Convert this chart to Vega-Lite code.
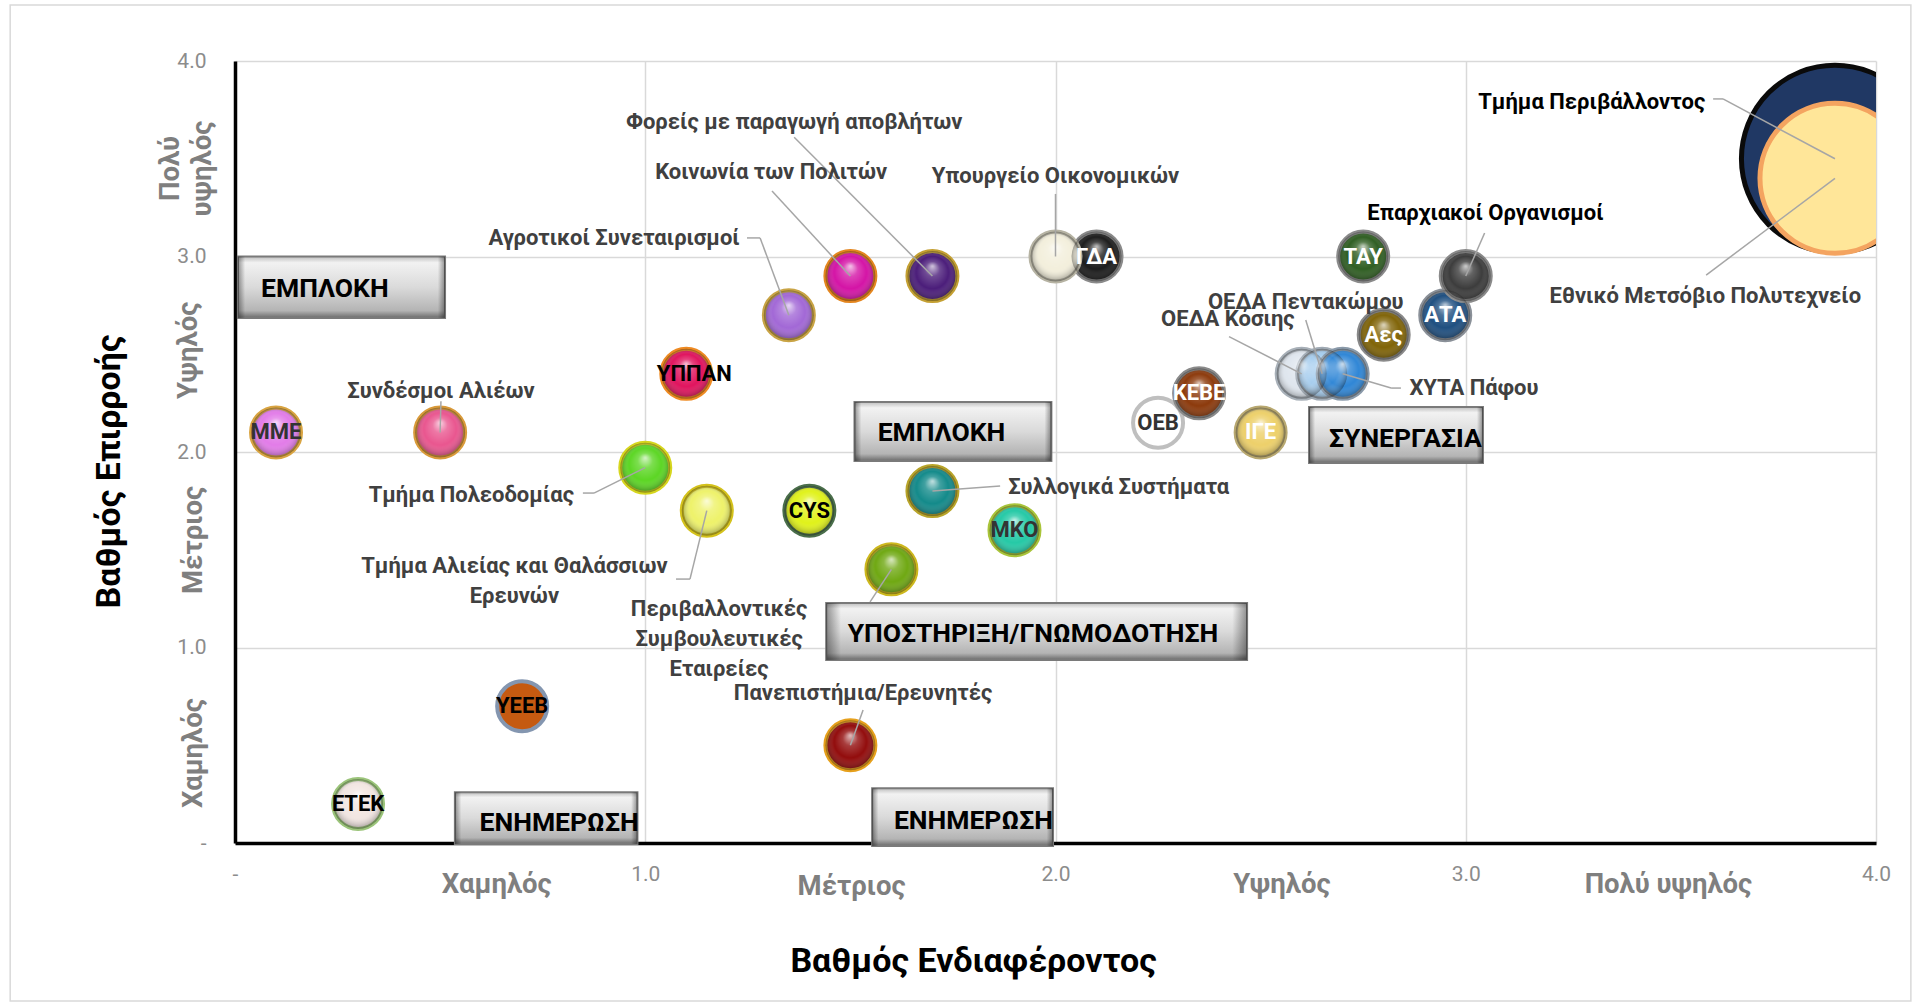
{
  "$schema": "https://vega.github.io/schema/vega-lite/v6.json",
  "width": 1641,
  "height": 782,
  "autosize": "none",
  "padding": {"left": 235, "top": 61, "right": 43, "bottom": 160},
  "background": "white",
  "config": {"view": {"stroke": null}, "font": "Roboto"},
  "datasets": {
    "stakeholders": [
      {"name": "Τμήμα Περιβάλλοντος", "interest": 3.9, "influence": 3.5, "size": 14},
      {"name": "Εθνικό Μετσόβιο Πολυτεχνείο", "interest": 3.9, "influence": 3.4, "size": 9},
      {"name": "ΜΜΕ", "interest": 0.1, "influence": 2.1, "size": 1},
      {"name": "Συνδέσμοι Αλιέων", "interest": 0.5, "influence": 2.1, "size": 1},
      {"name": "ΥΠΠΑΝ", "interest": 1.1, "influence": 2.4, "size": 1},
      {"name": "Αγροτικοί Συνεταιρισμοί", "interest": 1.35, "influence": 2.7, "size": 1},
      {"name": "Κοινωνία των Πολιτών", "interest": 1.5, "influence": 2.9, "size": 1},
      {"name": "Φορείς με παραγωγή αποβλήτων", "interest": 1.7, "influence": 2.9, "size": 1},
      {"name": "ΓΔΑ", "interest": 2.1, "influence": 3.0, "size": 1},
      {"name": "Υπουργείο Οικονομικών", "interest": 2.0, "influence": 3.0, "size": 1},
      {"name": "Τμήμα Πολεοδομίας", "interest": 1.0, "influence": 1.92, "size": 1},
      {"name": "Τμήμα Αλιείας και Θαλάσσιων Ερευνών", "interest": 1.15, "influence": 1.7, "size": 1},
      {"name": "CYS", "interest": 1.4, "influence": 1.7, "size": 1},
      {"name": "Συλλογικά Συστήματα", "interest": 1.7, "influence": 1.8, "size": 1},
      {"name": "ΜΚΟ", "interest": 1.9, "influence": 1.6, "size": 1},
      {"name": "Περιβαλλοντικές Συμβουλευτικές Εταιρείες", "interest": 1.6, "influence": 1.4, "size": 1},
      {"name": "Πανεπιστήμια/Ερευνητές", "interest": 1.5, "influence": 0.5, "size": 1},
      {"name": "ΥΕΕΒ", "interest": 0.7, "influence": 0.7, "size": 1},
      {"name": "ΕΤΕΚ", "interest": 0.3, "influence": 0.2, "size": 1},
      {"name": "ΟΕΒ", "interest": 2.25, "influence": 2.15, "size": 1},
      {"name": "ΚΕΒΕ", "interest": 2.35, "influence": 2.3, "size": 1},
      {"name": "ΙΓΕ", "interest": 2.5, "influence": 2.1, "size": 1},
      {"name": "ΟΕΔΑ Κόσιης", "interest": 2.6, "influence": 2.4, "size": 1},
      {"name": "ΟΕΔΑ Πεντακώμου", "interest": 2.65, "influence": 2.4, "size": 1},
      {"name": "ΧΥΤΑ Πάφου", "interest": 2.7, "influence": 2.4, "size": 1},
      {"name": "Αες", "interest": 2.8, "influence": 2.6, "size": 1},
      {"name": "ΤΑΥ", "interest": 2.75, "influence": 3.0, "size": 1},
      {"name": "ΑΤΑ", "interest": 2.95, "influence": 2.7, "size": 1},
      {"name": "Επαρχιακοί Οργανισμοί", "interest": 3.0, "influence": 2.9, "size": 1}
    ],
    "callouts": [
      {"name": "Φορείς με παραγωγή αποβλήτων", "label": "Φορείς με παραγωγή αποβλήτων", "tx": 1.363, "ty": 3.69, "sx": 1.363, "sy": 3.61, "bx": 1.363, "by": 3.61},
      {"name": "Κοινωνία των Πολιτών", "label": "Κοινωνία των Πολιτών", "tx": 1.307, "ty": 3.43, "sx": 1.309, "sy": 3.335, "bx": 1.309, "by": 3.335},
      {"name": "Υπουργείο Οικονομικών", "label": "Υπουργείο Οικονομικών", "tx": 2.0, "ty": 3.41, "sx": 2.0, "sy": 3.32, "bx": 2.0, "by": 3.32},
      {"name": "Αγροτικοί Συνεταιρισμοί", "label": "Αγροτικοί Συνεταιρισμοί", "tx": 0.924, "ty": 3.095, "sx": 1.248, "sy": 3.095, "bx": 1.28, "by": 3.095},
      {"name": "Συνδέσμοι Αλιέων", "label": "Συνδέσμοι Αλιέων", "tx": 0.502, "ty": 2.31, "sx": 0.502, "sy": 2.26, "bx": 0.502, "by": 2.26},
      {"name": "Τμήμα Πολεοδομίας", "label": "Τμήμα Πολεοδομίας", "tx": 0.576, "ty": 1.78, "sx": 0.848, "sy": 1.79, "bx": 0.875, "by": 1.79},
      {"name": "Τμήμα Αλιείας και Θαλάσσιων Ερευνών", "label": "Τμήμα Αλιείας και Θαλάσσιων\nΕρευνών", "tx": 0.681, "ty": 1.417, "sx": 1.075, "sy": 1.35, "bx": 1.109, "by": 1.35},
      {"name": "Περιβαλλοντικές Συμβουλευτικές Εταιρείες", "label": "Περιβαλλοντικές\nΣυμβουλευτικές\nΕταιρείες", "tx": 1.18, "ty": 1.197, "sx": 1.548, "sy": 1.233, "bx": 1.548, "by": 1.233},
      {"name": "Συλλογικά Συστήματα", "label": "Συλλογικά Συστήματα", "tx": 2.154, "ty": 1.82, "sx": 1.865, "sy": 1.826, "bx": 1.865, "by": 1.826},
      {"name": "Πανεπιστήμια/Ερευνητές", "label": "Πανεπιστήμια/Ερευνητές", "tx": 1.531, "ty": 0.767, "sx": 1.531, "sy": 0.68, "bx": 1.531, "by": 0.68},
      {"name": "ΟΕΔΑ Πεντακώμου", "label": "ΟΕΔΑ Πεντακώμου", "tx": 2.61, "ty": 2.767, "sx": 2.61, "sy": 2.675, "bx": 2.61, "by": 2.675},
      {"name": "ΟΕΔΑ Κόσιης", "label": "ΟΕΔΑ Κόσιης", "tx": 2.42, "ty": 2.68, "sx": 2.423, "sy": 2.59, "bx": 2.423, "by": 2.59},
      {"name": "ΧΥΤΑ Πάφου", "label": "ΧΥΤΑ Πάφου", "tx": 3.02, "ty": 2.327, "sx": 2.842, "sy": 2.327, "bx": 2.818, "by": 2.327},
      {"name": "Επαρχιακοί Οργανισμοί", "label": "Επαρχιακοί Οργανισμοί", "tx": 3.048, "ty": 3.22, "sx": 3.046, "sy": 3.12, "bx": 3.046, "by": 3.12},
      {"name": "Τμήμα Περιβάλλοντος", "label": "Τμήμα Περιβάλλοντος", "tx": 3.307, "ty": 3.79, "sx": 3.603, "sy": 3.806, "bx": 3.627, "by": 3.806},
      {"name": "Εθνικό Μετσόβιο Πολυτεχνείο", "label": "Εθνικό Μετσόβιο Πολυτεχνείο", "tx": 3.584, "ty": 2.8, "sx": 3.586, "sy": 2.905, "bx": 3.586, "by": 2.905}
    ],
    "boxes": [
      {"label": "ΕΜΠΛΟΚΗ", "x1": 0.007, "x2": 0.512, "y1": 3.0, "y2": 2.685, "tx": 0.219, "ty": 2.834},
      {"label": "ΕΜΠΛΟΚΗ", "x1": 1.51, "x2": 1.99, "y1": 2.256, "y2": 1.954, "tx": 1.722, "ty": 2.097},
      {"label": "ΣΥΝΕΡΓΑΣΙΑ", "x1": 2.618, "x2": 3.042, "y1": 2.23, "y2": 1.944, "tx": 2.853, "ty": 2.066},
      {"label": "ΥΠΟΣΤΗΡΙΞΗ/ΓΝΩΜΟΔΟΤΗΣΗ", "x1": 1.441, "x2": 2.467, "y1": 1.228, "y2": 0.936, "tx": 1.945, "ty": 1.069},
      {"label": "ΕΝΗΜΕΡΩΣΗ", "x1": 0.536, "x2": 0.981, "y1": 0.26, "y2": -0.005, "tx": 0.79, "ty": 0.1},
      {"label": "ΕΝΗΜΕΡΩΣΗ", "x1": 1.553, "x2": 1.994, "y1": 0.28, "y2": -0.015, "tx": 1.8, "ty": 0.113}
    ],
    "xcats": [
      {"label": "Χαμηλός", "x": 0.638, "y": -0.215},
      {"label": "Μέτριος", "x": 1.503, "y": -0.225},
      {"label": "Υψηλός", "x": 2.552, "y": -0.215},
      {"label": "Πολύ υψηλός", "x": 3.494, "y": -0.215}
    ],
    "ycats": [
      {"label": "Χαμηλός", "x": -0.1, "y": 0.46},
      {"label": "Μέτριος", "x": -0.1, "y": 1.55},
      {"label": "Υψηλός", "x": -0.112, "y": 2.52},
      {"label": "Πολύ\nυψηλός", "x": -0.156, "y": 3.45}
    ],
    "frame": [
      {"x1": -0.548, "x2": 4.085, "y1": 4.286, "y2": -0.808}
    ]
  },
  "layer": [
    {
      "data": {"name": "frame"},
      "mark": {"type": "rect", "fill": null, "stroke": "#d9d9d9", "strokeWidth": 1.5},
      "encoding": {
        "x": {"field": "x1", "type": "quantitative", "scale": {"domain": [0, 4], "nice": false, "zero": false},
          "axis": {"values": [0, 1, 2, 3, 4], "labelExpr": "datum.value == 0 ? '-' : format(datum.value, '.1f')", "grid": true, "gridColor": "#d9d9d9", "gridWidth": 1.5, "domainColor": "#000000", "domainWidth": 3.5, "ticks": false, "tickSize": 0, "labelColor": "#8c8c8c", "labelFontSize": 21, "labelFont": "Roboto", "labelPadding": 20, "labelFlush": false, "labelOverlap": false, "title": "Βαθμός Ενδιαφέροντος", "titleFont": "Roboto", "titleFontSize": 34, "titleFontWeight": "bold", "titleColor": "#000000", "titlePadding": 60, "titleX": 738}},
        "x2": {"field": "x2"},
        "y": {"field": "y1", "type": "quantitative", "scale": {"domain": [0, 4], "nice": false, "zero": false},
          "axis": {"values": [0, 1, 2, 3, 4], "labelExpr": "datum.value == 0 ? '-' : format(datum.value, '.1f')", "grid": true, "gridColor": "#d9d9d9", "gridWidth": 1.5, "domainColor": "#000000", "domainWidth": 3.5, "ticks": false, "tickSize": 0, "labelColor": "#8c8c8c", "labelFontSize": 21, "labelFont": "Roboto", "labelPadding": 29, "labelFlush": false, "labelOverlap": false, "title": "Βαθμός Επιρροής", "titleFont": "Roboto", "titleFontSize": 34, "titleFontWeight": "bold", "titleColor": "#000000", "titlePadding": 50, "titleY": 410}},
        "y2": {"field": "y2"}
      }
    },
    {
      "data": {"name": "stakeholders"},
      "transform": [{"filter": "datum.size > 1"}],
      "mark": {"type": "point", "filled": true, "shape": "circle", "opacity": 1, "strokeWidth": 5, "clip": true},
      "encoding": {
        "x": {"field": "interest", "type": "quantitative", "scale": {"domain": [0, 4], "nice": false, "zero": false}},
        "y": {"field": "influence", "type": "quantitative", "scale": {"domain": [0, 4], "nice": false, "zero": false}},
        "size": {"field": "size", "type": "quantitative", "scale": {"type": "linear", "domain": [0, 14], "range": [0, 35000]}, "legend": null},
        "fill": {"field": "name", "type": "nominal", "legend": null, "scale": {
          "domain": ["Τμήμα Περιβάλλοντος", "Εθνικό Μετσόβιο Πολυτεχνείο", "ΜΜΕ", "Συνδέσμοι Αλιέων", "ΥΠΠΑΝ", "Αγροτικοί Συνεταιρισμοί", "Κοινωνία των Πολιτών", "Φορείς με παραγωγή αποβλήτων", "ΓΔΑ", "Υπουργείο Οικονομικών", "Τμήμα Πολεοδομίας", "Τμήμα Αλιείας και Θαλάσσιων Ερευνών", "CYS", "Συλλογικά Συστήματα", "ΜΚΟ", "Περιβαλλοντικές Συμβουλευτικές Εταιρείες", "Πανεπιστήμια/Ερευνητές", "ΥΕΕΒ", "ΕΤΕΚ", "ΟΕΒ", "ΚΕΒΕ", "ΙΓΕ", "ΟΕΔΑ Κόσιης", "ΟΕΔΑ Πεντακώμου", "ΧΥΤΑ Πάφου", "Αες", "ΤΑΥ", "ΑΤΑ", "Επαρχιακοί Οργανισμοί"],
          "range": ["#203864", "#ffe699", "#e27ce8", "#e9568f", "#e0145e", "#a268d6", "#d414a6", "#4b1d7a", "#1c1c1c", "#f3efdc", "#5cd624", "#eef26a", "#e0f21a", "#138a8a", "#25c9a6", "#6fa812", "#920c0c", "#c55a11", "#f2e6e2", "#ffffff", "#8c3a0c", "#edd06a", "#dfe6ee", "#a6cdee", "#2f86d6", "#806408", "#2f5e22", "#1f4f80", "#3c3c3c"]}},
        "stroke": {"field": "name", "type": "nominal", "legend": null, "scale": {
          "domain": ["Τμήμα Περιβάλλοντος", "Εθνικό Μετσόβιο Πολυτεχνείο", "ΜΜΕ", "Συνδέσμοι Αλιέων", "ΥΠΠΑΝ", "Αγροτικοί Συνεταιρισμοί", "Κοινωνία των Πολιτών", "Φορείς με παραγωγή αποβλήτων", "ΓΔΑ", "Υπουργείο Οικονομικών", "Τμήμα Πολεοδομίας", "Τμήμα Αλιείας και Θαλάσσιων Ερευνών", "CYS", "Συλλογικά Συστήματα", "ΜΚΟ", "Περιβαλλοντικές Συμβουλευτικές Εταιρείες", "Πανεπιστήμια/Ερευνητές", "ΥΕΕΒ", "ΕΤΕΚ", "ΟΕΒ", "ΚΕΒΕ", "ΙΓΕ", "ΟΕΔΑ Κόσιης", "ΟΕΔΑ Πεντακώμου", "ΧΥΤΑ Πάφου", "Αες", "ΤΑΥ", "ΑΤΑ", "Επαρχιακοί Οργανισμοί"],
          "range": ["#0a0a0a", "#f4a460", "#d9a441", "#d99a3a", "#ee8a22", "#c9a445", "#e4861f", "#c4a033", "#8a8a8a", "#b6b3a3", "#d6d61e", "#d4c21c", "#4a6e4a", "#b8a42a", "#a9c43a", "#cdb81e", "#e6a01c", "#8496b0", "#9bc47a", "#bfbfbf", "#8a8a8a", "#b8a870", "#a8b0b8", "#a0aab4", "#8a9aaa", "#8a8a8a", "#8a8a8a", "#8a9098", "#8a8a8a"]}}
      }
    },
    {
      "data": {"name": "stakeholders"},
      "transform": [{"filter": "datum.size == 1"}],
      "mark": {"type": "point", "filled": true, "shape": "circle", "opacity": 1, "strokeWidth": 4},
      "encoding": {
        "x": {"field": "interest", "type": "quantitative", "scale": {"domain": [0, 4], "nice": false, "zero": false}},
        "y": {"field": "influence", "type": "quantitative", "scale": {"domain": [0, 4], "nice": false, "zero": false}},
        "size": {"field": "size", "type": "quantitative", "scale": {"type": "linear", "domain": [0, 14], "range": [0, 35000]}, "legend": null},
        "fill": {"field": "name", "type": "nominal", "legend": null},
        "stroke": {"field": "name", "type": "nominal", "legend": null}
      }
    },
    {
      "data": {"name": "stakeholders"},
      "transform": [{"filter": {"not": {"field": "name", "oneOf": ["ΟΕΒ", "ΥΕΕΒ", "Τμήμα Περιβάλλοντος", "Εθνικό Μετσόβιο Πολυτεχνείο"]}}}],
      "mark": {"type": "point", "filled": true, "shape": "circle", "opacity": 1, "strokeWidth": 0,
        "fill": {"gradient": "radial", "x1": 0.5, "y1": 0.3, "r1": 0, "x2": 0.5, "y2": 0.5, "r2": 0.5,
          "stops": [{"offset": 0, "color": "rgba(255,255,255,0.75)"}, {"offset": 0.3, "color": "rgba(255,255,255,0.2)"}, {"offset": 0.65, "color": "rgba(255,255,255,0)"}, {"offset": 1, "color": "rgba(0,0,0,0.35)"}]}},
      "encoding": {
        "x": {"field": "interest", "type": "quantitative", "scale": {"domain": [0, 4], "nice": false, "zero": false}},
        "y": {"field": "influence", "type": "quantitative", "scale": {"domain": [0, 4], "nice": false, "zero": false}},
        "size": {"field": "size", "type": "quantitative", "scale": {"type": "linear", "domain": [0, 14], "range": [0, 35000]}, "legend": null}
      }
    },
    {
      "data": {"name": "boxes"},
      "mark": {"type": "rect", "stroke": "#7a7a7a", "strokeWidth": 2,
        "fill": {"gradient": "linear", "x1": 0, "y1": 0, "x2": 0, "y2": 1,
          "stops": [{"offset": 0, "color": "#bdbdbd"}, {"offset": 0.1, "color": "#f2f2f2"}, {"offset": 0.5, "color": "#dadada"}, {"offset": 0.88, "color": "#b4b4b4"}, {"offset": 1, "color": "#6a6a6a"}]}},
      "encoding": {
        "x": {"field": "x1", "type": "quantitative", "scale": {"domain": [0, 4], "nice": false, "zero": false}},
        "x2": {"field": "x2"},
        "y": {"field": "y1", "type": "quantitative", "scale": {"domain": [0, 4], "nice": false, "zero": false}},
        "y2": {"field": "y2"}
      }
    },
    {
      "data": {"name": "boxes"},
      "mark": {"type": "rect", "strokeWidth": 0,
        "fill": {"gradient": "linear", "x1": 0, "y1": 0, "x2": 1, "y2": 0,
          "stops": [{"offset": 0, "color": "rgba(0,0,0,0.4)"}, {"offset": 0.035, "color": "rgba(0,0,0,0)"}, {"offset": 0.965, "color": "rgba(0,0,0,0)"}, {"offset": 1, "color": "rgba(0,0,0,0.4)"}]}},
      "encoding": {
        "x": {"field": "x1", "type": "quantitative", "scale": {"domain": [0, 4], "nice": false, "zero": false}},
        "x2": {"field": "x2"},
        "y": {"field": "y1", "type": "quantitative", "scale": {"domain": [0, 4], "nice": false, "zero": false}},
        "y2": {"field": "y2"}
      }
    },
    {
      "data": {"name": "boxes"},
      "mark": {"type": "text", "font": "Roboto", "fontSize": 26.5, "fontWeight": "bold", "color": "#000000", "align": "center", "baseline": "middle"},
      "encoding": {
        "x": {"field": "tx", "type": "quantitative", "scale": {"domain": [0, 4], "nice": false, "zero": false}},
        "y": {"field": "ty", "type": "quantitative", "scale": {"domain": [0, 4], "nice": false, "zero": false}},
        "text": {"field": "label"}
      }
    },
    {
      "data": {"name": "callouts"},
      "mark": {"type": "rule", "color": "#a6a6a6", "strokeWidth": 1.5},
      "encoding": {
        "x": {"field": "sx", "type": "quantitative", "scale": {"domain": [0, 4], "nice": false, "zero": false}},
        "y": {"field": "sy", "type": "quantitative", "scale": {"domain": [0, 4], "nice": false, "zero": false}},
        "x2": {"field": "bx"},
        "y2": {"field": "by"}
      }
    },
    {
      "data": {"name": "callouts"},
      "transform": [{"lookup": "name", "from": {"data": {"name": "stakeholders"}, "key": "name", "fields": ["interest", "influence"]}}],
      "mark": {"type": "rule", "color": "#a6a6a6", "strokeWidth": 1.5},
      "encoding": {
        "x": {"field": "bx", "type": "quantitative", "scale": {"domain": [0, 4], "nice": false, "zero": false}},
        "y": {"field": "by", "type": "quantitative", "scale": {"domain": [0, 4], "nice": false, "zero": false}},
        "x2": {"field": "interest"},
        "y2": {"field": "influence"}
      }
    },
    {
      "data": {"name": "callouts"},
      "transform": [{"filter": {"not": {"field": "name", "oneOf": ["Τμήμα Περιβάλλοντος", "Επαρχιακοί Οργανισμοί"]}}}],
      "mark": {"type": "text", "font": "Roboto", "fontSize": 22, "fontWeight": "bold", "color": "#404040", "align": "center", "baseline": "middle", "lineBreak": "\n", "lineHeight": 30},
      "encoding": {
        "x": {"field": "tx", "type": "quantitative", "scale": {"domain": [0, 4], "nice": false, "zero": false}},
        "y": {"field": "ty", "type": "quantitative", "scale": {"domain": [0, 4], "nice": false, "zero": false}},
        "text": {"field": "label"}
      }
    },
    {
      "data": {"name": "callouts"},
      "transform": [{"filter": {"field": "name", "oneOf": ["Τμήμα Περιβάλλοντος", "Επαρχιακοί Οργανισμοί"]}}],
      "mark": {"type": "text", "font": "Roboto", "fontSize": 22, "fontWeight": "bold", "color": "#000000", "align": "center", "baseline": "middle"},
      "encoding": {
        "x": {"field": "tx", "type": "quantitative", "scale": {"domain": [0, 4], "nice": false, "zero": false}},
        "y": {"field": "ty", "type": "quantitative", "scale": {"domain": [0, 4], "nice": false, "zero": false}},
        "text": {"field": "label"}
      }
    },
    {
      "data": {"name": "stakeholders"},
      "transform": [{"filter": {"field": "name", "oneOf": ["ΓΔΑ", "ΚΕΒΕ", "ΙΓΕ", "Αες", "ΤΑΥ", "ΑΤΑ"]}}],
      "mark": {"type": "text", "font": "Roboto", "fontSize": 22, "fontWeight": "bold", "color": "#ffffff", "align": "center", "baseline": "middle"},
      "encoding": {
        "x": {"field": "interest", "type": "quantitative", "scale": {"domain": [0, 4], "nice": false, "zero": false}},
        "y": {"field": "influence", "type": "quantitative", "scale": {"domain": [0, 4], "nice": false, "zero": false}},
        "text": {"field": "name"}
      }
    },
    {
      "data": {"name": "stakeholders"},
      "transform": [{"filter": {"field": "name", "oneOf": ["CYS", "ΥΕΕΒ", "ΕΤΕΚ"]}}],
      "mark": {"type": "text", "font": "Roboto", "fontSize": 22, "fontWeight": "bold", "color": "#000000", "align": "center", "baseline": "middle"},
      "encoding": {
        "x": {"field": "interest", "type": "quantitative", "scale": {"domain": [0, 4], "nice": false, "zero": false}},
        "y": {"field": "influence", "type": "quantitative", "scale": {"domain": [0, 4], "nice": false, "zero": false}},
        "text": {"field": "name"}
      }
    },
    {
      "data": {"name": "stakeholders"},
      "transform": [{"filter": {"field": "name", "oneOf": ["ΥΠΠΑΝ"]}}],
      "mark": {"type": "text", "font": "Roboto", "fontSize": 22, "fontWeight": "bold", "color": "#000000", "align": "center", "baseline": "middle", "dx": 8},
      "encoding": {
        "x": {"field": "interest", "type": "quantitative", "scale": {"domain": [0, 4], "nice": false, "zero": false}},
        "y": {"field": "influence", "type": "quantitative", "scale": {"domain": [0, 4], "nice": false, "zero": false}},
        "text": {"field": "name"}
      }
    },
    {
      "data": {"name": "stakeholders"},
      "transform": [{"filter": {"field": "name", "oneOf": ["ΜΜΕ", "ΜΚΟ", "ΟΕΒ"]}}],
      "mark": {"type": "text", "font": "Roboto", "fontSize": 22, "fontWeight": "bold", "color": "#333333", "align": "center", "baseline": "middle"},
      "encoding": {
        "x": {"field": "interest", "type": "quantitative", "scale": {"domain": [0, 4], "nice": false, "zero": false}},
        "y": {"field": "influence", "type": "quantitative", "scale": {"domain": [0, 4], "nice": false, "zero": false}},
        "text": {"field": "name"}
      }
    },
    {
      "data": {"name": "xcats"},
      "mark": {"type": "text", "font": "Roboto", "fontSize": 27.5, "fontWeight": "bold", "color": "#7f7f7f", "align": "center", "baseline": "middle"},
      "encoding": {
        "x": {"field": "x", "type": "quantitative", "scale": {"domain": [0, 4], "nice": false, "zero": false}},
        "y": {"field": "y", "type": "quantitative", "scale": {"domain": [0, 4], "nice": false, "zero": false}},
        "text": {"field": "label"}
      }
    },
    {
      "data": {"name": "ycats"},
      "mark": {"type": "text", "font": "Roboto", "fontSize": 27.5, "fontWeight": "bold", "color": "#7f7f7f", "align": "center", "baseline": "middle", "angle": 270, "lineBreak": "\n", "lineHeight": 32},
      "encoding": {
        "x": {"field": "x", "type": "quantitative", "scale": {"domain": [0, 4], "nice": false, "zero": false}},
        "y": {"field": "y", "type": "quantitative", "scale": {"domain": [0, 4], "nice": false, "zero": false}},
        "text": {"field": "label"}
      }
    },
    {
      "mark": {"type": "point", "shape": "triangle-right", "filled": true, "color": "#000000", "opacity": 1, "size": 230},
      "encoding": {
        "x": {"datum": 3.975, "type": "quantitative", "scale": {"domain": [0, 4], "nice": false, "zero": false}},
        "y": {"datum": 0, "type": "quantitative", "scale": {"domain": [0, 4], "nice": false, "zero": false}}
      }
    },
    {
      "mark": {"type": "point", "shape": "triangle-up", "filled": true, "color": "#000000", "opacity": 1, "size": 230},
      "encoding": {
        "x": {"datum": 0, "type": "quantitative", "scale": {"domain": [0, 4], "nice": false, "zero": false}},
        "y": {"datum": 3.96, "type": "quantitative", "scale": {"domain": [0, 4], "nice": false, "zero": false}}
      }
    }
  ]
}
